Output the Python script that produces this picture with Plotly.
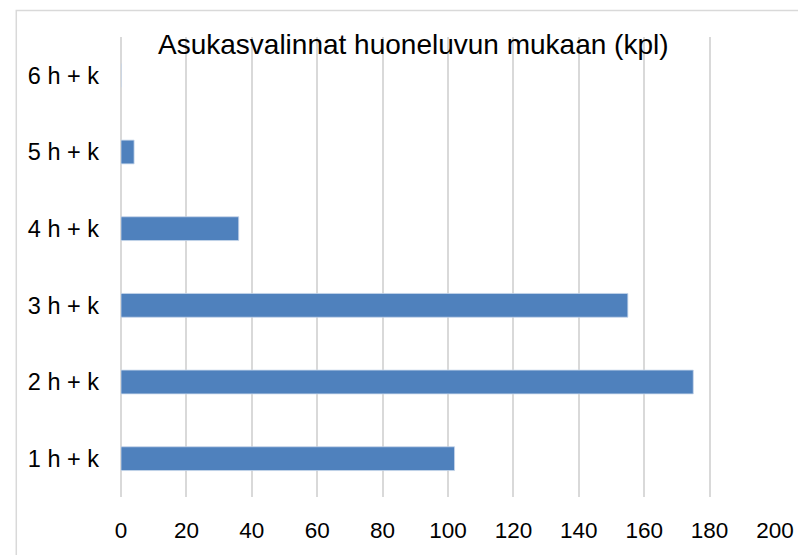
import plotly.graph_objects as go

categories = ["1 h + k", "2 h + k", "3 h + k", "4 h + k", "5 h + k", "6 h + k"]
values = [102, 175, 155, 36, 4, 0]
x_ticks = [0, 20, 40, 60, 80, 100, 120, 140, 160, 180, 200]
title_text = "Asukasvalinnat huoneluvun mukaan (kpl)"

# page has an 8px body margin, so the figure is 8px smaller each way
W, H = 798, 547
L, R, T, B = 113, 23, 29, 50
pw, ph = W - L - R, H - T - B

fam = "Liberation Sans, Arial, sans-serif"

fig = go.Figure(go.Bar(
    y=categories, x=values, orientation="h",
    marker=dict(color="#4F81BD", line=dict(color="#C6D6EA", width=0.8)),
))

fig.update_layout(
    width=W, height=H,
    margin=dict(l=L, r=R, t=T, b=B, pad=0),
    paper_bgcolor="white", plot_bgcolor="white",
    bargap=0.69,
    showlegend=False,
    font=dict(family=fam, size=22, color="#000000"),
    xaxis=dict(range=[0, 200], tickvals=x_ticks, ticktext=[str(v) for v in x_ticks],
               showgrid=True, gridcolor="#D9D9D9", gridwidth=1.5,
               zeroline=True, zerolinecolor="#D9D9D9", zerolinewidth=1.5,
               showline=False, ticks="", ticklabelstandoff=17,
               tickfont=dict(family=fam, size=22.5, color="#000000")),
    yaxis=dict(categoryorder="array", categoryarray=categories,
               showgrid=False, zeroline=False, showline=False, ticks="",
               ticklabelstandoff=21,
               tickfont=dict(family=fam, size=23.5, color="#000000")),
    shapes=[dict(type="rect", xref="paper", yref="paper",
                 x0=(7 - L) / pw, x1=1.2, y0=-0.3, y1=(H - B - 2) / ph,
                 line=dict(color="#D9D9D9", width=1.5), fillcolor="rgba(0,0,0,0)",
                 layer="below")],
    annotations=[dict(text=title_text, xref="paper", yref="paper",
                      x=(409.5 - L) / pw, y=(H - B - 37) / ph,
                      xanchor="center", yanchor="middle", showarrow=False,
                      font=dict(family=fam, size=28, color="#000000"))],
)

fig.write_html("out.html")
